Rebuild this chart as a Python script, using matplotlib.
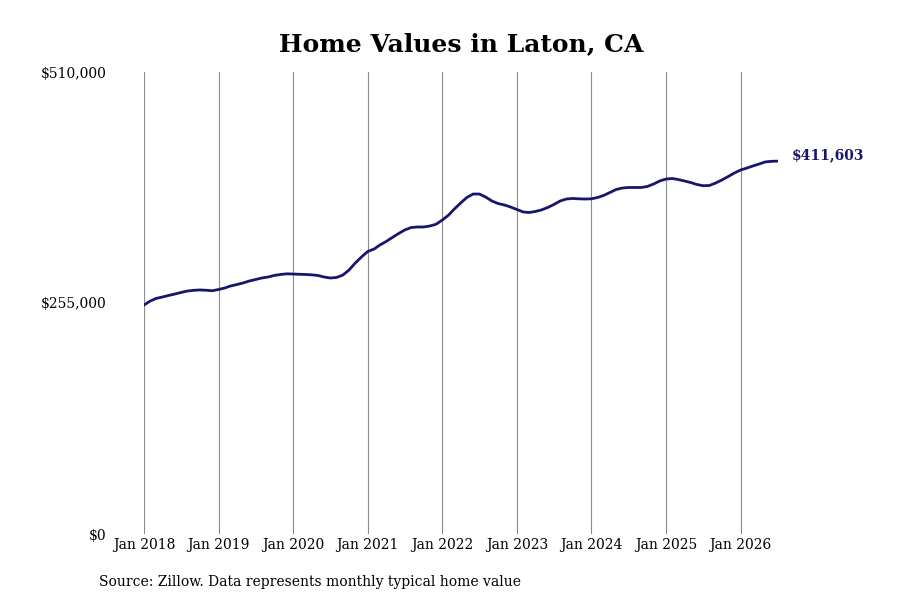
import numpy as np
import pandas as pd
import matplotlib
matplotlib.use("Agg")
import matplotlib.pyplot as plt
import matplotlib.dates as mdates

plt.rcParams['font.family'] = ['DejaVu Serif']

# monthly typical home value, Jan 2018 .. Jul 2026
values = [
    252800, 257200, 260000, 261600, 263300, 264900, 266600, 268200, 269000, 269400, 269100, 268500,
    269900, 271600, 273800, 275400, 277100, 279300, 280900, 282600, 283700, 285400, 286500, 287200,
    287000, 286700, 286500, 286100, 285400, 283700, 282600, 283200, 285900, 291400, 299200, 305800,
    311900, 314600, 319000, 322900, 327300, 331700, 335600, 338300, 338900, 338900, 340000, 341900,
    346600, 352100, 358800, 365400, 371500, 375300, 375300, 372000, 367600, 364800, 363200, 361000,
    358200, 355500, 354900, 356000, 357700, 360400, 363700, 367600, 369800, 370400, 370000, 369800,
    370000, 371500, 373700, 377000, 380300, 381900, 382500, 382500, 382500, 383600, 386400, 389700,
    391900, 392400, 391300, 389700, 388000, 385800, 384500, 384700, 387500, 390800, 394600, 398500,
    401800, 404000, 406200, 408400, 410700, 411400, 411603,
]
dates = pd.date_range("2018-01-01", periods=len(values), freq="MS")
tick_years = list(range(2018, 2027))
y_ticks = [0, 255000, 510000]
y_labels = ["$0", "$255,000", "$510,000"]
title = "Home Values in Laton, CA"
source = "Source: Zillow. Data represents monthly typical home value"
line_color = "#18166a"

fig = plt.figure(figsize=(9, 6), dpi=100)
ax = fig.add_axes([0.16, 0.11, 0.704, 0.77])

ax.plot(dates, values, color=line_color, linewidth=2.0, solid_capstyle="round")

ax.set_xlim(dates[0], dates[-1])
ax.set_ylim(0, 510000)

ticks = [pd.Timestamp(f"{y}-01-01") for y in tick_years]
ax.set_xticks(ticks)
ax.set_xticklabels([f"Jan {y}" for y in tick_years], fontsize=10)
ax.set_yticks(y_ticks)
ax.set_yticklabels(y_labels, fontsize=10)
ax.tick_params(axis="x", length=0, pad=3)
ax.tick_params(axis="y", length=0, pad=27)

ax.grid(axis="x", color="#8c8c8c", linewidth=0.8)
ax.grid(axis="y", visible=False)
for s in ax.spines.values():
    s.set_visible(False)

ax.annotate(f"${values[-1]:,}", xy=(dates[-1], values[-1]), xytext=(10, 4),
            textcoords="offset points", fontsize=10, fontweight="bold",
            color=line_color, va="center", ha="left")

fig.text(0.512, 0.927, title, fontsize=18, fontweight="bold", ha="center", va="center")
fig.text(0.11, 0.03, source, fontsize=10, ha="left", va="center")

fig.savefig("out.png", dpi=100)
